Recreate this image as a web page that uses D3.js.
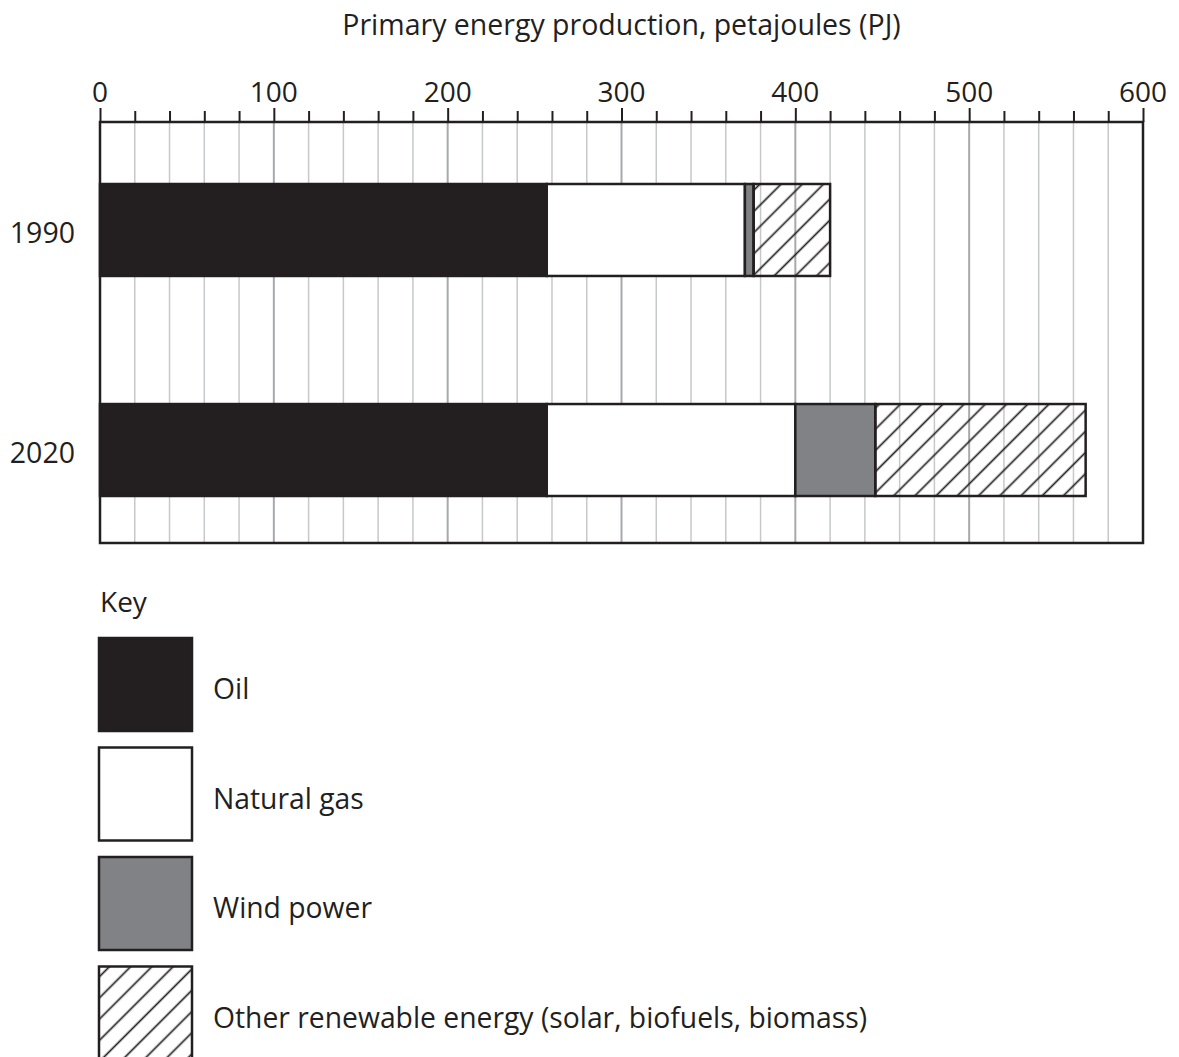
<!DOCTYPE html>
<html>
<head>
<meta charset="utf-8">
<script src="https://cdn.jsdelivr.net/npm/d3@7"></script>
<style>
  body { margin: 0; background: #fff; }
  svg { display: block; font-family: "Open Sans", "Noto Sans", sans-serif; }
</style>
</head>
<body>
<div id="chart"></div>
<script>
// Data
const years = ['1990', '2020'];
const sources = ['Oil', 'Natural gas', 'Wind power', 'Other renewable energy (solar, biofuels, biomass)'];
const oil = [257, 257];
const naturalGas = [114, 143];
const windPower = [5, 46];
const otherRenewable = [44, 121];
const tickValues = [0, 100, 200, 300, 400, 500, 600];

const width = 1179, height = 1057;
const ink = '#231f20';

const svg = d3.select('#chart').append('svg')
    .attr('width', width)
    .attr('height', height);

// diagonal hatch for "other renewable"
const defs = svg.append('defs');
defs.append('pattern')
    .attr('id', 'hatch')
    .attr('patternUnits', 'userSpaceOnUse')
    .attr('width', 15)
    .attr('height', 15)
    .attr('patternTransform', 'rotate(45)')
    .append('line')
    .attr('x1', 7.5).attr('y1', 0)
    .attr('x2', 7.5).attr('y2', 15)
    .attr('stroke', ink)
    .attr('stroke-width', 1.7);

const frame = { left: 100, right: 1143, top: 122, bottom: 543 };

const x = d3.scaleLinear().domain([0, 600]).range([frame.left, frame.right]);
const y = d3.scaleBand().domain(years).range([184, 496]).paddingInner(0.582).paddingOuter(0);

// Gridlines every 20, darker every 100
const gridVals = d3.range(20, 600, 20);
svg.append('g').selectAll('line')
    .data(gridVals)
    .join('line')
    .attr('x1', d => x(d)).attr('x2', d => x(d))
    .attr('y1', frame.top).attr('y2', frame.bottom)
    .attr('stroke', d => d % 100 === 0 ? '#a7a9ac' : '#c7c8ca')
    .attr('stroke-width', d => d % 100 === 0 ? 2 : 1.5);

// Stacked bars
const series = [
    { key: sources[0], values: oil, fill: ink },
    { key: sources[1], values: naturalGas, fill: '#ffffff' },
    { key: sources[2], values: windPower, fill: '#808285' },
    { key: sources[3], values: otherRenewable, fill: 'url(#hatch)' }
];

const rows = years.map((yr, i) => {
    let start = 0;
    return series.map(s => {
        const seg = { year: yr, key: s.key, fill: s.fill, x0: start, x1: start + s.values[i] };
        start += s.values[i];
        return seg;
    });
}).flat();

svg.append('g').selectAll('rect')
    .data(rows)
    .join('rect')
    .attr('x', d => x(d.x0))
    .attr('width', d => x(d.x1) - x(d.x0))
    .attr('y', d => y(d.year))
    .attr('height', y.bandwidth())
    .attr('fill', d => d.fill)
    .attr('stroke', ink)
    .attr('stroke-width', 2.5);

// Frame
svg.append('rect')
    .attr('x', frame.left).attr('y', frame.top)
    .attr('width', frame.right - frame.left)
    .attr('height', frame.bottom - frame.top)
    .attr('fill', 'none')
    .attr('stroke', ink)
    .attr('stroke-width', 2.5);

// Top axis: minor ticks every 20, longer ticks every 100
const axis = svg.append('g').attr('transform', `translate(0,${frame.top})`);
axis.call(d3.axisTop(x).tickValues(d3.range(0, 601, 20)).tickSize(11).tickFormat(''))
    .call(g => g.select('.domain').remove())
    .call(g => g.selectAll('.tick line')
        .attr('stroke', ink)
        .attr('stroke-width', 2)
        .attr('y2', d => d % 100 === 0 ? -14 : -11));

svg.append('g').selectAll('text')
    .data(tickValues)
    .join('text')
    .attr('x', d => x(d))
    .attr('y', 102)
    .attr('text-anchor', 'middle')
    .attr('font-size', 28)
    .attr('fill', ink)
    .text(d => d);

// Axis title
svg.append('text')
    .attr('x', x(300))
    .attr('y', 35)
    .attr('text-anchor', 'middle')
    .attr('font-size', 28.5)
    .attr('fill', ink)
    .text('Primary energy production, petajoules (PJ)');

// Year labels
svg.append('g').selectAll('text')
    .data(years)
    .join('text')
    .attr('x', 75)
    .attr('y', d => y(d) + y.bandwidth() / 2 + 13)
    .attr('text-anchor', 'end')
    .attr('font-size', 28.5)
    .attr('fill', ink)
    .text(d => d);

// Key
svg.append('text')
    .attr('x', 100)
    .attr('y', 612)
    .attr('font-size', 28)
    .attr('fill', ink)
    .text('Key');

const legend = svg.append('g').selectAll('g')
    .data(series)
    .join('g')
    .attr('transform', (d, i) => `translate(99,${638 + i * 109.5})`);

legend.append('rect')
    .attr('width', 93)
    .attr('height', 93)
    .attr('fill', d => d.fill)
    .attr('stroke', ink)
    .attr('stroke-width', 2.5);

legend.append('text')
    .attr('x', 114)
    .attr('y', 61)
    .attr('font-size', 28.3)
    .attr('fill', ink)
    .text(d => d.key);
</script>
</body>
</html>
